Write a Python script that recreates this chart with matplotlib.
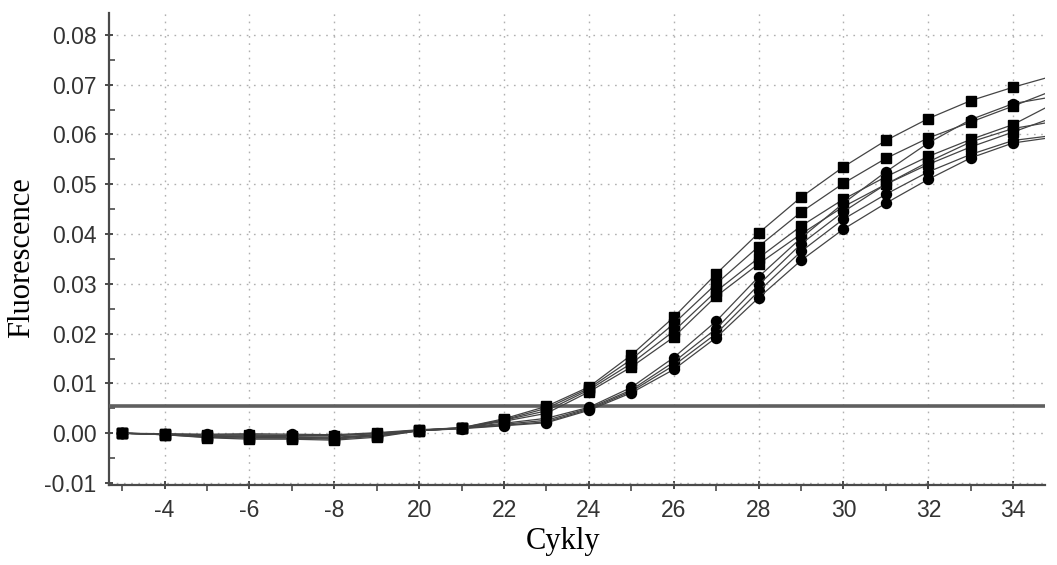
import matplotlib
matplotlib.use("Agg")
import matplotlib.pyplot as plt
import numpy as np
from matplotlib.ticker import MultipleLocator

# x positions (index scale of the instrument plot) and tick labels
positions = [3, 4, 5, 6, 7, 8, 9, 10, 11, 12, 13, 14, 15, 16, 17, 18, 19, 20, 21, 22, 23, 24, 24.75]
tick_positions = [4, 6, 8, 10, 12, 14, 16, 18, 20, 22, 24]
tick_labels = ["-4", "-6", "-8", "20", "22", "24", "26", "28", "30", "32", "34"]

# early curves (square markers)
sq1 = [0.0000, -0.0002, -0.0004, -0.0003, -0.0005, -0.0005, 0.0000, 0.0006, 0.0011, 0.0029, 0.0054, 0.0093, 0.0157, 0.0233, 0.0320, 0.0402, 0.0474, 0.0535, 0.0588, 0.0632, 0.0668, 0.0695, 0.0713]
sq2 = [0.0000, -0.0002, -0.0006, -0.0008, -0.0008, -0.0010, -0.0003, 0.0006, 0.0011, 0.0027, 0.0050, 0.0090, 0.0148, 0.0220, 0.0300, 0.0375, 0.0444, 0.0502, 0.0552, 0.0593, 0.0625, 0.0657, 0.0682]
sq3 = [0.0000, -0.0003, -0.0008, -0.0010, -0.0010, -0.0012, -0.0006, 0.0005, 0.0010, 0.0026, 0.0045, 0.0087, 0.0140, 0.0205, 0.0285, 0.0352, 0.0416, 0.0470, 0.0515, 0.0556, 0.0590, 0.0620, 0.0653]
sq4 = [0.0000, -0.0003, -0.0009, -0.0012, -0.0012, -0.0014, -0.0008, 0.0005, 0.0010, 0.0024, 0.0040, 0.0083, 0.0133, 0.0193, 0.0275, 0.0340, 0.0400, 0.0455, 0.0500, 0.0540, 0.0575, 0.0605, 0.0628]
# later curves (circle markers)
ci1 = [0.0000, -0.0001, -0.0002, -0.0001, -0.0002, -0.0003, 0.0001, 0.0007, 0.0011, 0.0020, 0.0030, 0.0052, 0.0092, 0.0152, 0.0225, 0.0314, 0.0392, 0.0462, 0.0525, 0.0583, 0.0630, 0.0662, 0.0673]
ci2 = [0.0000, -0.0002, -0.0003, -0.0004, -0.0004, -0.0005, -0.0001, 0.0006, 0.0010, 0.0018, 0.0026, 0.0050, 0.0087, 0.0143, 0.0210, 0.0298, 0.0380, 0.0445, 0.0500, 0.0545, 0.0585, 0.0612, 0.0623]
ci3 = [0.0000, -0.0002, -0.0005, -0.0006, -0.0007, -0.0008, -0.0003, 0.0005, 0.0010, 0.0016, 0.0023, 0.0048, 0.0084, 0.0136, 0.0200, 0.0285, 0.0365, 0.0430, 0.0480, 0.0525, 0.0560, 0.0588, 0.0596]
ci4 = [0.0000, -0.0003, -0.0006, -0.0008, -0.0009, -0.0010, -0.0005, 0.0005, 0.0009, 0.0015, 0.0021, 0.0046, 0.0081, 0.0128, 0.0192, 0.0272, 0.0347, 0.0410, 0.0462, 0.0510, 0.0553, 0.0583, 0.0592]

threshold = 0.0054

fig = plt.figure(figsize=(10.57, 5.65), dpi=100)
ax = fig.add_axes([109/1057, 1-485/565, (1045-109)/1057, (485-13)/565])

ax.set_xlim(2.69, 24.75)
ax.set_ylim(-0.0104, 0.0844)

ax.grid(True, which="major", color="#b0b0b0", linestyle=(0, (1.2, 4)), linewidth=1.0)
ax.set_axisbelow(True)

ax.axhline(threshold, color="#5f5f5f", linewidth=2.6, zorder=3)

n_marks = len(positions) - 1
for s in [sq1, sq2, sq3, sq4]:
    ax.plot(positions, s, color="#444444", linewidth=0.9, marker="s", markersize=6.8,
            markerfacecolor="black", markeredgecolor="black", markevery=list(range(n_marks)), zorder=4)
for s in [ci1, ci2, ci3, ci4]:
    ax.plot(positions, s, color="#444444", linewidth=0.9, marker="o", markersize=7.2,
            markerfacecolor="black", markeredgecolor="black", markevery=list(range(n_marks)), zorder=4)

ax.set_xticks(tick_positions)
ax.set_xticklabels(tick_labels)
ax.xaxis.set_minor_locator(MultipleLocator(1))
ax.set_yticks(np.arange(-0.01, 0.0801, 0.01))
ax.set_yticklabels([f"{v:.2f}" for v in np.arange(-0.01, 0.0801, 0.01)])
ax.yaxis.set_minor_locator(MultipleLocator(0.005))

for sp in ["top", "right"]:
    ax.spines[sp].set_visible(False)
for sp in ["left", "bottom"]:
    ax.spines[sp].set_color("#4a4a4a")
    ax.spines[sp].set_linewidth(1.6)

ax.tick_params(axis="both", which="major", direction="inout", length=6, width=1.4,
               color="#4a4a4a", labelsize=16.5, labelcolor="#333333")
ax.tick_params(axis="y", which="major", pad=6)
ax.tick_params(axis="x", which="major", pad=7)
ax.tick_params(axis="y", which="minor", direction="in", length=4, width=1.2, color="#4a4a4a")
ax.tick_params(axis="x", which="minor", direction="out", length=4, width=1.2, color="#4a4a4a")
for lbl in ax.get_xticklabels() + ax.get_yticklabels():
    lbl.set_family(["Liberation Sans", "DejaVu Sans"])

ax.set_xlabel("Cykly", family=["Liberation Serif", "DejaVu Serif"], fontsize=22, color="black")
ax.xaxis.set_label_coords(0.485, -0.088)
ax.set_ylabel("Fluorescence", family=["Liberation Serif", "DejaVu Serif"], fontsize=22, color="black")
ax.yaxis.set_label_coords(-0.078, 0.481)

fig.savefig("out.png", dpi=100)
